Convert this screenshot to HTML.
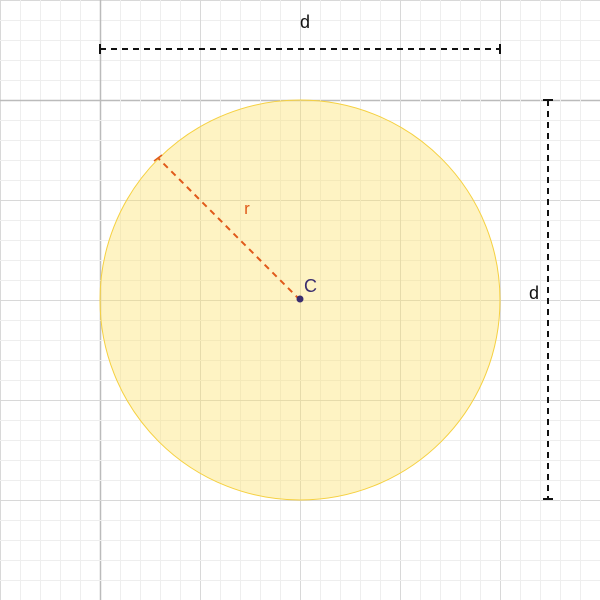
<!DOCTYPE html>
<html><head><meta charset="utf-8"><style>body{margin:0;background:#fff}svg{display:block;font-family:"Liberation Sans",sans-serif}</style></head>
<body>
<svg width="600" height="600">
<g id="grid"></g>
<circle cx="300" cy="300" r="200" fill="rgba(253,224,105,0.4)" stroke="#f5d040" stroke-width="1"/>
<line x1="300" y1="300" x2="158.6" y2="158.6" stroke="#e05a1a" stroke-width="2" stroke-dasharray="6,5"/>
<line x1="154" y1="161" x2="162" y2="155" stroke="#e05a1a" stroke-width="1.5"/>
<text x="247" y="214" font-size="17" fill="#e05a1a" text-anchor="middle">r</text>
<circle cx="300" cy="299" r="3.5" fill="#3a2d6e"/>
<text x="304" y="292" font-size="18" fill="#3a2d6e">C</text>
<line x1="100" y1="49" x2="500" y2="49" stroke="#111" stroke-width="2" stroke-dasharray="6,5"/>
<line x1="100" y1="44" x2="100" y2="54" stroke="#111" stroke-width="2"/>
<line x1="500" y1="44" x2="500" y2="54" stroke="#111" stroke-width="2"/>
<text x="305" y="28" font-size="18" fill="#111" text-anchor="middle">d</text>
<line x1="548" y1="100" x2="548" y2="500" stroke="#111" stroke-width="2" stroke-dasharray="6,5"/>
<line x1="543" y1="100" x2="553" y2="100" stroke="#111" stroke-width="2"/>
<line x1="543" y1="499" x2="553" y2="499" stroke="#111" stroke-width="2"/>
<text x="534" y="299" font-size="18" fill="#111" text-anchor="middle">d</text>
</svg>
<script>
const g=document.getElementById('grid');const ns='http://www.w3.org/2000/svg';
function ln(x1,y1,x2,y2,c,w,name){const l=document.createElementNS(ns,'line');l.setAttribute('x1',x1);l.setAttribute('y1',y1);l.setAttribute('x2',x2);l.setAttribute('y2',y2);l.setAttribute('stroke',c);l.setAttribute('stroke-width',w);


g.appendChild(l);}
for(let p=0;p<=600;p+=20){let c='#eeeeee',w=1,n='minor-gridline';if(p%100===0){c='#d8d8d8';n='major-gridline';}if(p===100){c='#bbbbbb';w=1.5;n='axis-line';}
ln(p+0.5,0,p+0.5,600,c,w,n);ln(0,p+0.5,600,p+0.5,c,w,n);}
</script>
</body></html>
